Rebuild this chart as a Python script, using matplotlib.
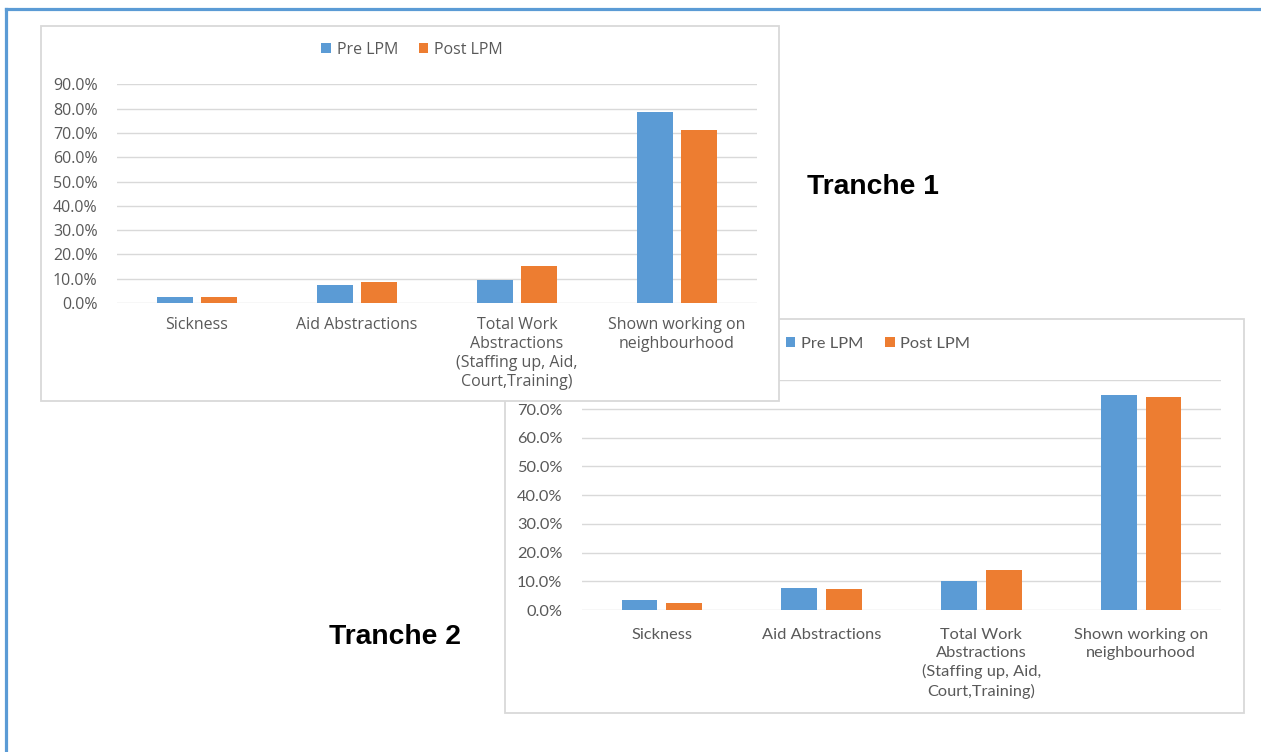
import numpy as np
import matplotlib
matplotlib.use('Agg')
import matplotlib.pyplot as plt
from matplotlib.patches import Rectangle
from matplotlib.lines import Line2D
from matplotlib.ticker import PercentFormatter

# data
categories = ['Sickness', 'Aid Abstractions',
              'Total Work\nAbstractions\n(Staffing up, Aid,\nCourt,Training)',
              'Shown working on\nneighbourhood']
series = ['Pre LPM', 'Post LPM']
t1_pre = [0.025, 0.073, 0.094, 0.786]
t1_post = [0.025, 0.086, 0.152, 0.712]
t2_pre = [0.035, 0.076, 0.102, 0.749]
t2_post = [0.023, 0.072, 0.139, 0.741]
titles = ['Tranche 1', 'Tranche 2']

blue = '#5B9BD5'
orange = '#ED7D31'
grid = '#D9D9D9'
txt = '#595959'

W, H = 1261, 752
fig = plt.figure(figsize=(W / 100, H / 100), dpi=100)
fig.patch.set_facecolor('white')


def px_box(x0, y0, x1, y1):
    # pixel box (top-left origin) -> figure fraction [l, b, w, h]
    return [x0 / W, 1 - y1 / H, (x1 - x0) / W, (y1 - y0) / H]


def draw_chart(pre, post, frame, plot, ymax, font, fsize, lsp, xpad, leg_xy, z):
    l, b, w, h = px_box(*frame)
    fig.add_artist(Rectangle((l, b), w, h, transform=fig.transFigure,
                             facecolor='white', edgecolor=grid, lw=1.3, zorder=z))
    ax = fig.add_axes(px_box(*plot), zorder=z + 1)
    ax.patch.set_alpha(0)
    x = np.arange(len(categories))
    ax.bar(x - 0.14, pre, width=0.225, color=blue, label=series[0], zorder=3)
    ax.bar(x + 0.14, post, width=0.225, color=orange, label=series[1], zorder=3)
    ax.set_xlim(-0.5, len(categories) - 0.5)
    ax.set_ylim(0, ymax)
    ax.set_yticks(np.arange(0, ymax + 0.001, 0.1))
    ax.yaxis.set_major_formatter(PercentFormatter(1.0, decimals=1))
    ax.set_xticks(x)
    ax.set_xticklabels(categories, linespacing=lsp)
    ax.grid(axis='y', color=grid, lw=1.0, zorder=0)
    for s in ax.spines.values():
        s.set_visible(False)
    ax.tick_params(length=0, colors=txt, labelsize=fsize)
    ax.tick_params(axis='y', pad=14)
    ax.tick_params(axis='x', pad=xpad)
    for lab in ax.get_xticklabels() + ax.get_yticklabels():
        lab.set_family(font)
    lx, ly = leg_xy
    leg = ax.legend(loc='center', bbox_to_anchor=(lx / W, 1 - ly / H),
                    bbox_transform=fig.transFigure, ncol=2, frameon=False,
                    handlelength=0.6, handleheight=0.6, handletextpad=0.35,
                    columnspacing=1.3, prop={'family': font, 'size': fsize})
    for t in leg.get_texts():
        t.set_color(txt)
    return ax


# chart 2 first (underneath), chart 1 on top
draw_chart(t2_pre, t2_post, (505, 319, 1244, 713), (582, 380.3, 1221, 610),
           0.8, 'Lato', 11.8, 1.36, 13, (878, 344), 1)
draw_chart(t1_pre, t1_post, (41, 26, 779, 401), (117, 84.3, 757, 303),
           0.9, 'Open Sans', 11.5, 1.24, 10, (412, 50), 3)

fig.text(873 / W, 1 - 187 / H, titles[0], ha='center', va='center',
         fontsize=20.3, fontweight='bold', family='Liberation Sans', color='black')
fig.text(395 / W, 1 - 637 / H, titles[1], ha='center', va='center',
         fontsize=20.3, fontweight='bold', family='Liberation Sans', color='black')

# outer blue frame (top and left edges)
fig.add_artist(Line2D([6 / W, 1], [1 - 8.5 / H, 1 - 8.5 / H], transform=fig.transFigure,
                      color=blue, lw=2.3, zorder=10))
fig.add_artist(Line2D([6 / W, 6 / W], [0, 1 - 8.5 / H], transform=fig.transFigure,
                      color=blue, lw=2.3, zorder=10))

fig.savefig('out.png', dpi=100)
